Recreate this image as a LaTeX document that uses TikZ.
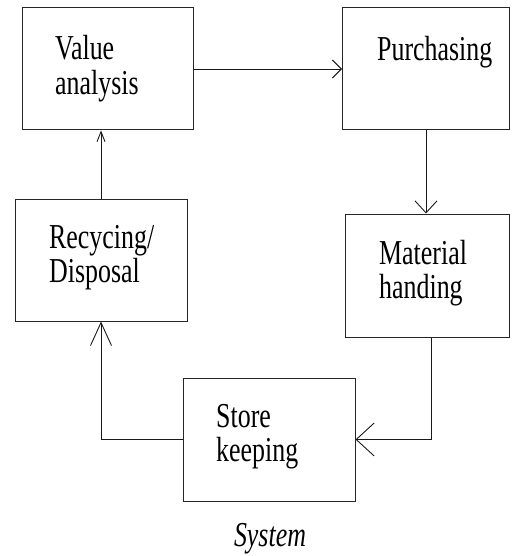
\documentclass[tikz,border=0pt]{standalone}
\usepackage{fontspec}
\setmainfont{Liberation Serif}
\usepackage{graphicx}
\usetikzlibrary{arrows.meta}
\tikzset{
  box/.style={draw=black!85, line width=1pt, rectangle, inner sep=0pt, fill=none},
  lbl/.style={anchor=base west, inner sep=0pt, font=\fontsize{25.9}{24.4}\selectfont},
  conn/.style={draw=black!90, line width=0.9pt},
}
\newcommand{\stretchtext}[1]{\scalebox{1}[1.35]{\begin{tabular}[t]{@{}l@{}}#1\end{tabular}}}
\begin{document}
\begin{tikzpicture}[x=1pt,y=-1pt]
\useasboundingbox (0,0) rectangle (511,556);
% boxes
\node[box, minimum width=171pt, minimum height=122pt] (va) at (107.5,69) {};
\node[box, minimum width=167pt, minimum height=122pt] (pu) at (426,69) {};
\node[box, minimum width=164pt, minimum height=123pt] (mh) at (427.5,275.5) {};
\node[box, minimum width=172pt, minimum height=123pt] (sk) at (269,439.5) {};
\node[box, minimum width=172pt, minimum height=122pt] (rd) at (101,260) {};
% texts
\node[lbl] (tva) at (55,60) {\stretchtext{Value\\analysis}};
\node[lbl] (tpu) at (377,61) {\stretchtext{Purchasing}};
\node[lbl] (tmh) at (379,264) {\stretchtext{Material\\handing}};
\node[lbl] (tsk) at (216,427) {\stretchtext{Store\\keeping}};
\node[lbl] (trd) at (49,248) {\stretchtext{Recycing/\\Disposal}};
\node[anchor=base, inner sep=0pt, font=\fontsize{25.9}{24.4}\selectfont\itshape] (sys) at (270,546) {\scalebox{1}[1.35]{System}};
% connectors
\coordinate (c1) at (431,440);
\draw[conn, -{Straight Barb[length=9pt,width=18pt]}] (va.east) -- (pu.west);
\draw[conn, -{Straight Barb[length=12pt,width=22pt]}] (pu.south) -- (pu.south |- mh.north);
\draw[conn, -{Straight Barb[length=18pt,width=33pt]}] (mh.south -| c1) |- (sk.east);
\draw[conn, -{Straight Barb[length=23pt,width=21pt]}] (sk.west) -| (rd.south);
\draw[conn, -{Straight Barb[length=10pt,width=8pt]}] (rd.north) -- (rd.north |- va.south);
\end{tikzpicture}
\end{document}
